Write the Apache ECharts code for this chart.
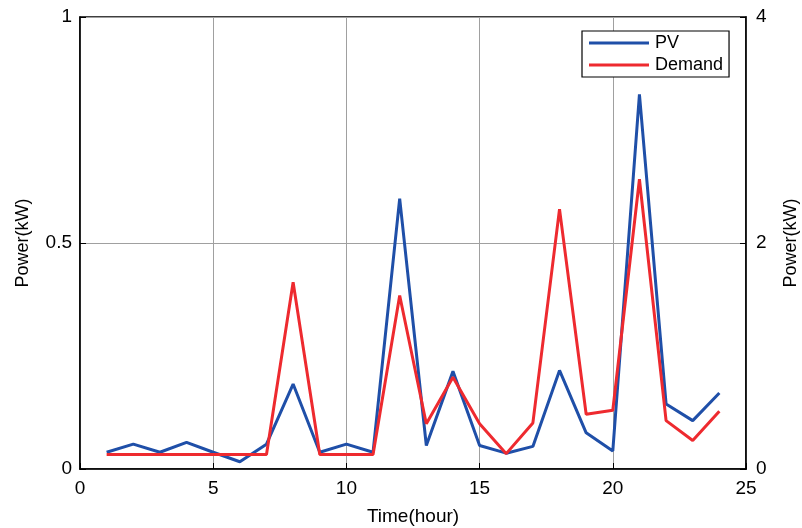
<!DOCTYPE html>
<html><head><meta charset="utf-8">
<script src="https://cdn.jsdelivr.net/npm/echarts@6/dist/echarts.min.js"></script>
<style>html,body{margin:0;padding:0;background:#fff}#c{width:802px;height:528px}</style>
</head><body><div id="c"></div>
<script>
var hours = [1,2,3,4,5,6,7,8,9,10,11,12,13,14,15,16,17,18,19,20,21,22,23,24];
var pv = [0.037,0.055,0.037,0.059,0.037,0.016,0.055,0.188,0.037,0.055,0.037,0.598,0.052,0.216,0.052,0.035,0.050,0.218,0.080,0.040,0.829,0.144,0.107,0.168];
var demand = [0.032,0.032,0.032,0.032,0.032,0.032,0.032,0.413,0.032,0.032,0.032,0.384,0.100,0.203,0.100,0.034,0.102,0.575,0.121,0.130,0.641,0.107,0.063,0.128];
var leftTicks = [0, 0.5, 1];
var rightTicks = [0, 2, 4];

var font = 'Liberation Sans, Arial, sans-serif';
var chart = echarts.init(document.getElementById('c'), null, {renderer: 'canvas'});
function pairs(v){ return hours.map(function(h,i){ return [h, v[i]]; }); }
chart.setOption({
  animation: false,
  backgroundColor: '#fff',
  grid: {left: 80, right: 56, top: 17, bottom: 59, show: true, borderColor: '#000', borderWidth: 1.5,
         containLabel: false, outerBoundsMode: 'none'},
  legend: {
    orient: 'vertical', left: 582, top: 31, itemWidth: 60, itemHeight: 3, icon: 'rect',
    backgroundColor: '#fff', borderColor: '#000', borderWidth: 1.2, padding: [3, 6, 3, 7], itemGap: 4,
    textStyle: {fontFamily: font, fontSize: 18, color: '#000', padding: [0,0,0,1]},
    data: ['PV', 'Demand']
  },
  xAxis: [{
    type: 'value', min: 0, max: 25, interval: 5,
    name: 'Time(hour)', nameLocation: 'middle', nameGap: 38,
    nameTextStyle: {fontFamily: font, fontSize: 19, color: '#000'},
    axisLine: {show: true, lineStyle: {color: '#000', width: 1.5}},
    axisTick: {show: true, inside: true, length: 6, lineStyle: {color: '#000'}},
    axisLabel: {fontFamily: font, fontSize: 19, color: '#000', margin: 10},
    splitLine: {show: true, lineStyle: {color: '#a0a0a0', width: 1}}
  }],
  yAxis: [{
    type: 'value', min: 0, max: 1, interval: 0.5, position: 'left',
    name: 'Power(kW)', nameLocation: 'middle', nameGap: 48,
    nameTextStyle: {fontFamily: font, fontSize: 18, color: '#000'},
    axisLine: {show: true, lineStyle: {color: '#000', width: 1.5}},
    axisTick: {show: true, inside: true, length: 6, lineStyle: {color: '#000'}},
    axisLabel: {fontFamily: font, fontSize: 19, color: '#000', margin: 8,
      formatter: function(v){ return leftTicks.indexOf(v) >= 0 ? String(v) : ''; }},
    splitLine: {show: true, lineStyle: {color: '#a0a0a0', width: 1}}
  }, {
    type: 'value', min: 0, max: 4, interval: 2, position: 'right',
    name: 'Power(kW)', nameLocation: 'middle', nameGap: 36,
    nameTextStyle: {fontFamily: font, fontSize: 18, color: '#000'},
    axisLine: {show: true, lineStyle: {color: '#000', width: 1.5}},
    axisTick: {show: true, inside: true, length: 6, lineStyle: {color: '#000'}},
    axisLabel: {fontFamily: font, fontSize: 19, color: '#000', margin: 10,
      formatter: function(v){ return rightTicks.indexOf(v) >= 0 ? String(v) : ''; }},
    splitLine: {show: false}
  }],
  series: [{
    name: 'PV', type: 'line', yAxisIndex: 0, data: pairs(pv), showSymbol: false, symbol: 'none',
    lineStyle: {color: '#1f4fa8', width: 3}, itemStyle: {color: '#1f4fa8'}, z: 3
  }, {
    name: 'Demand', type: 'line', yAxisIndex: 0, data: pairs(demand), showSymbol: false, symbol: 'none',
    lineStyle: {color: '#ee2a2f', width: 3}, itemStyle: {color: '#ee2a2f'}, z: 4
  }]
});
</script></body></html>
